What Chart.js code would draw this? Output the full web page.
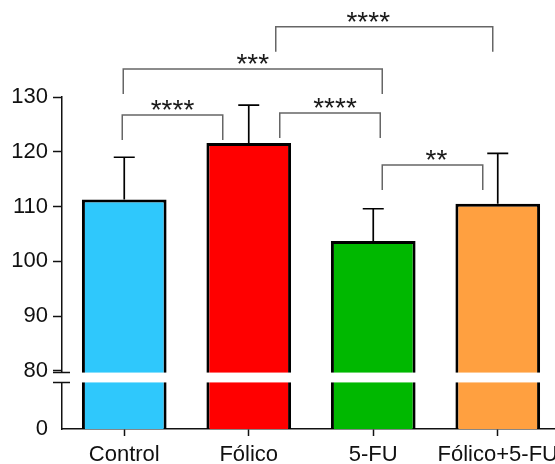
<!DOCTYPE html>
<html>
<head>
<meta charset="utf-8">
<script src="https://cdn.jsdelivr.net/npm/chart.js@4.4.0/dist/chart.umd.min.js"></script>
<style>
  html, body { margin: 0; padding: 0; overflow: hidden; background: #fff; }
</style>
</head>
<body>
<canvas id="chart" width="560" height="464"></canvas>
<script>
// values (broken axis: bottom segment starts at "0")
const categories = ['Control', 'Fólico', '5-FU', 'Fólico+5-FU'];
const means = [111.3, 121.6, 103.7, 110.5];
const errors = [7.7, 6.9, 5.9, 9.2];
const barColors = ['#2fc8fc', '#ff0000', '#00b800', '#ffa040'];
const yTicks = [80, 90, 100, 110, 120, 130];
const axisFloor = 69.4;          // position of the "0" tick under the break
const breakRange = [77.9, 79.7]; // axis gap

// significance comparisons
const bracketPairs = [[0, 1], [1, 2], [0, 2], [1, 3], [2, 3]];
const bracketLabels = ['****', '****', '***', '****', '**'];
const bracketLevels = [126.7, 127.1, 135.1, 142.8, 117.6];

const font = { family: "'Liberation Sans', Arial, sans-serif", size: 22 };
const ink = '#111';

// leg offsets (px) from the category centres, and label nudges
const legOffsets = [[-2, -26], [31, 7], [-1, 9], [27, -5], [9, -15]];
const labelNudge = [0, 5, 0, -16, 4];

const annotate = {
  id: 'annotate',
  afterDatasetsDraw(chart) {
    const { ctx, scales: { x, y } } = chart;
    const meta = chart.getDatasetMeta(0);
    ctx.save();
    // upper error bars
    ctx.strokeStyle = '#000';
    ctx.lineWidth = 1.7;
    meta.data.forEach((bar, i) => {
      const top = y.getPixelForValue(means[i] + errors[i]);
      ctx.beginPath();
      ctx.moveTo(bar.x, bar.y);
      ctx.lineTo(bar.x, top);
      ctx.moveTo(bar.x - 10.5, top);
      ctx.lineTo(bar.x + 10.5, top);
      ctx.stroke();
    });
    // brackets
    ctx.strokeStyle = '#666';
    ctx.lineWidth = 1.5;
    ctx.fillStyle = '#1a1a1a';
    ctx.font = "28px 'Liberation Sans', Arial, sans-serif";
    ctx.textAlign = 'center';
    ctx.textBaseline = 'alphabetic';
    bracketPairs.forEach(([a, b], k) => {
      const x1 = x.getPixelForValue(a) + legOffsets[k][0];
      const x2 = x.getPixelForValue(b) + legOffsets[k][1];
      const yl = y.getPixelForValue(bracketLevels[k]);
      ctx.beginPath();
      ctx.moveTo(x1, yl + 25);
      ctx.lineTo(x1, yl);
      ctx.lineTo(x2, yl);
      ctx.lineTo(x2, yl + 25);
      ctx.stroke();
      ctx.fillText(bracketLabels[k], (x1 + x2) / 2 + labelNudge[k], yl + 4);
    });
    ctx.restore();
  },
  afterDraw(chart) {
    const { ctx, scales: { x, y } } = chart;
    const yTop = y.getPixelForValue(breakRange[1]);
    const yBot = y.getPixelForValue(breakRange[0]);
    ctx.save();
    ctx.fillStyle = '#fff';
    ctx.fillRect(x.left - 10, yTop, chart.width, yBot - yTop);
    ctx.strokeStyle = ink;
    ctx.lineWidth = 1.5;
    ctx.beginPath();
    ctx.moveTo(x.left - 9, yTop);
    ctx.lineTo(x.left + 8, yTop);
    ctx.moveTo(x.left - 9, yBot);
    ctx.lineTo(x.left + 8, yBot);
    ctx.stroke();
    ctx.restore();
  }
};

new Chart(document.getElementById('chart'), {
  type: 'bar',
  data: {
    labels: categories,
    datasets: [{
      data: means,
      backgroundColor: barColors,
      borderColor: '#000',
      borderWidth: 3,
      borderSkipped: false,
      categoryPercentage: 0.68,
      barPercentage: 1
    }]
  },
  options: {
    responsive: false,
    animation: false,
    layout: { padding: { top: 97, left: 0, right: 0, bottom: 0 } },
    plugins: { legend: { display: false }, tooltip: { enabled: false } },
    scales: {
      x: {
        offset: true,
        afterFit: s => {
          s.height = 35;
          s.paddingLeft = 0;
          s.paddingRight = 0;
        },
        grid: { drawOnChartArea: false, offset: false, tickLength: 7, tickColor: ink, tickWidth: 1.5 },
        border: { color: ink, width: 1.5 },
        ticks: { font, color: ink, padding: 6, maxRotation: 0, autoSkip: false }
      },
      y: {
        min: axisFloor,
        max: 130,
        afterBuildTicks: s => { s.ticks = [axisFloor, ...yTicks].map(v => ({ value: v })); },
        afterFit: s => { s.width = 62; },
        grid: {
          drawOnChartArea: false,
          tickLength: 9,
          tickWidth: 1.5,
          tickColor: c => (c.tick && c.tick.value < 80 ? 'rgba(0,0,0,0)' : ink)
        },
        border: { color: ink, width: 1.5 },
        ticks: {
          font,
          color: ink,
          padding: 5,
          autoSkip: false,
          callback: v => (v < 80 ? '0' : v)
        }
      }
    }
  },
  plugins: [annotate]
});
</script>
</body>
</html>
